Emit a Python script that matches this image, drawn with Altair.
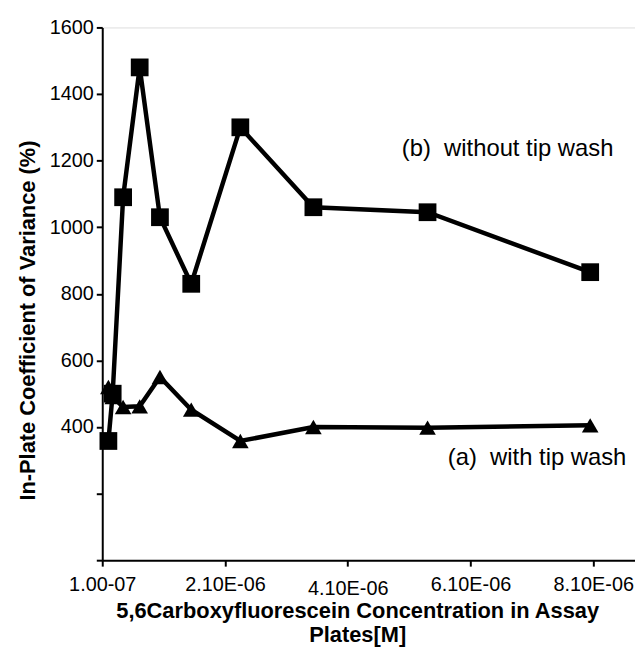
import altair as alt
import pandas as pd

# Concentrations (M)
conc = [2.0e-7, 2.7e-7, 4.4e-7, 7.1e-7, 1.04e-6, 1.55e-6, 2.35e-6, 3.54e-6, 5.40e-6, 8.05e-6]
# (b) without tip wash  (squares)
cv_without = [358, 500, 1090, 1480, 1030, 830, 1300, 1060, 1045, 865]
# (a) with tip wash  (triangles)
cv_with = [520, 490, 460, 462, 550, 452, 358, 400, 398, 405]

x_ticks = [1.0e-7, 2.1e-6, 4.1e-6, 6.1e-6, 8.1e-6]
x_tick_labels = ["1.00-07", "2.10E-06", "4.10E-06", "6.10E-06", "8.10E-06"]
y_ticks = [0, 200, 400, 600, 800, 1000, 1200, 1400, 1600]

ann_text = ["(b)\u00a0\u00a0without tip wash", "(a)\u00a0\u00a0with tip wash"]
ann_x = [4.98e-6, 5.73e-6]
ann_y = [1234, 307]

FONT = "Liberation Sans"

rows = []
for i, (c, v) in enumerate(zip(conc, cv_without)):
    rows.append({"conc": c, "cv": v, "series": "without", "i": i})
for i, (c, v) in enumerate(zip(conc, cv_with)):
    rows.append({"conc": c, "cv": v, "series": "with", "i": i})
df = pd.DataFrame(rows)
ann = pd.DataFrame({"t": ann_text, "x": ann_x, "y": ann_y})

# label expression for x ticks
expr = "''"
for v, lab in reversed(list(zip(x_ticks, x_tick_labels))):
    expr = f"abs(datum.value - {v}) < 1e-8 ? '{lab}' : ({expr})"

xscale = alt.Scale(domain=[1.0e-7, 8.78e-6], nice=False, zero=False)
yscale = alt.Scale(domain=[0, 1600], nice=False)

xaxis = alt.Axis(
    values=x_ticks, labelExpr=expr, grid=False, domainColor="black", domainWidth=2,
    tickColor="black", tickWidth=2, tickSize=6, labelFont=FONT, labelFontSize=20,
    labelColor="black",
    labelPadding={"condition": {"test": "abs(datum.value - 4.1e-6) < 1e-8", "value": 13},
                  "value": 9},
    labelFlush=False,
    title=["5,6Carboxyfluorescein Concentration in Assay", "Plates[M]"],
    titleFont=FONT, titleFontSize=22, titleFontWeight="bold", titleColor="black",
    titleX=257, titleY=41, titleAlign="center", titleBaseline="top",
    titleLineHeight=24,
)
yaxis = alt.Axis(
    values=y_ticks, format="d", labelExpr="datum.value >= 400 ? datum.label : ''",
    grid=False, domainColor="black", domainWidth=2, tickColor="black", tickWidth=2,
    tickSize=6, labelFont=FONT, labelFontSize=20, labelColor="black", labelPadding=3,
    title="In-Plate Coefficient of Variance (%)", titleFont=FONT, titleFontSize=22,
    titleFontWeight="bold", titleColor="black", titleX=-75, titleY=295,
    titleBaseline="middle", titleAlign="center",
)

base = alt.Chart(df)
lines = base.mark_line(color="black", strokeWidth=4.5).encode(
    x=alt.X("conc:Q", scale=xscale, axis=xaxis),
    y=alt.Y("cv:Q", scale=yscale, axis=yaxis),
    detail="series:N",
    order="i:Q",
)
squares = base.transform_filter("datum.series == 'without'").mark_point(
    shape="square", filled=True, color="black", opacity=1, size=320
).encode(x=alt.X("conc:Q", scale=xscale), y=alt.Y("cv:Q", scale=yscale))
tris = base.transform_filter("datum.series == 'with'").mark_point(
    shape="triangle-up", filled=True, color="black", opacity=1, size=280
).encode(x=alt.X("conc:Q", scale=xscale), y=alt.Y("cv:Q", scale=yscale))
texts = alt.Chart(ann).mark_text(
    align="left", baseline="middle", font=FONT, fontSize=24, color="black"
).encode(x=alt.X("x:Q", scale=xscale), y=alt.Y("y:Q", scale=yscale), text="t:N")

chart = alt.layer(lines, squares, tris, texts).properties(
    width=537, height=537,
    autosize=alt.AutoSizeParams(type="none"),
    padding={"left": 95, "top": 17, "right": 0, "bottom": 95},
).configure_view(stroke=None).configure(background="white")

chart.save("out.html", embed_options={"renderer": "svg", "actions": False})
